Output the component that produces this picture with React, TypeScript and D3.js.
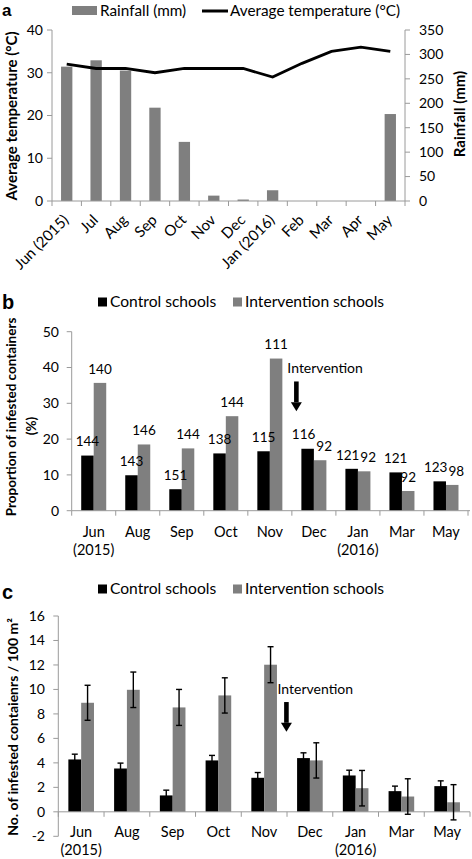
import React from "react";
import * as d3 from "d3";

// ---------- Panel a data ----------
const monthsA = ["Jun (2015)", "Jul", "Aug", "Sep", "Oct", "Nov", "Dec", "Jan (2016)", "Feb", "Mar", "Apr", "May"];
const rainfallA = [275, 288, 267, 191, 121, 11, 3, 22, 0, 0, 0, 178];
const temperatureA = [32, 31, 31, 30, 31, 31, 31, 29, 32.2, 35, 36, 35];
const tempTicks = [0, 10, 20, 30, 40];
const rainTicks = [0, 50, 100, 150, 200, 250, 300, 350];

// ---------- Panel b data ----------
const monthsB = ["Jun", "Aug", "Sep", "Oct", "Nov", "Dec", "Jan", "Mar", "May"];
const yearsB = ["(2015)", "", "", "", "", "", "(2016)", "", ""];
const controlB = [15.4, 9.9, 6.0, 16.0, 16.6, 17.3, 11.7, 10.7, 8.2];
const interventionB = [35.7, 18.5, 17.4, 26.4, 42.5, 14.1, 11.0, 5.5, 7.2];
const controlNB = ["144", "143", "151", "138", "115", "116", "121", "121", "123"];
const interventionNB = ["140", "146", "144", "144", "111", "92", "92", "92", "98"];
const ticksB = [0, 10, 20, 30, 40, 50];

// ---------- Panel c data ----------
const monthsC = monthsB;
const yearsC = yearsB;
const controlC = [4.28, 3.54, 1.34, 4.2, 2.78, 4.39, 2.97, 1.69, 2.1];
const controlErrC = [0.43, 0.44, 0.43, 0.41, 0.43, 0.43, 0.43, 0.41, 0.43];
const interventionC = [8.91, 9.97, 8.53, 9.51, 12.02, 4.2, 1.93, 1.25, 0.78];
const interventionErrC = [1.43, 1.45, 1.47, 1.44, 1.47, 1.44, 1.45, 1.45, 1.44];
const ticksC = [-2, 0, 2, 4, 6, 8, 10, 12, 14, 16];

const FONT = "Lato, 'Open Sans', sans-serif";
const GRAY = "#7f7f7f";
const AXIS = "#9a9a9a";

function PanelA() {
  const x = d3.scaleBand<string>().domain(monthsA).range([52, 405]);
  const yT = d3.scaleLinear().domain([0, 40]).range([201, 30]);
  const yR = d3.scaleLinear().domain([0, 350]).range([201, 30]);
  const bw = x.bandwidth() * 0.385;
  const line = d3
    .line<number>()
    .x((_, i) => (x(monthsA[i]) as number) + x.bandwidth() / 2)
    .y((d) => yT(d));
  const bounds = monthsA.map((m) => x(m) as number).concat([405]);
  return (
    <g fontFamily={FONT}>
      <text x={2} y={15.5} fontSize={17} fontWeight="bold" fontFamily="Arial, sans-serif">a</text>
      {/* legend */}
      <rect x={72} y={6} width={25} height={9} fill={GRAY} />
      <text x={100} y={15.5} fontSize={15.3}>Rainfall (mm)</text>
      <line x1={202} x2={228} y1={11} y2={11} stroke="#000" strokeWidth={3} />
      <text x={230} y={15.5} fontSize={15.3}>Average temperature (°C)</text>
      {/* bars */}
      {rainfallA.map((v, i) => (
        <rect key={i} x={(x(monthsA[i]) as number) + (x.bandwidth() - bw) / 2} y={yR(v)} width={bw} height={yR(0) - yR(v)} fill={GRAY} />
      ))}
      {/* axes */}
      <line x1={52} x2={52} y1={30} y2={201} stroke={AXIS} />
      <line x1={405} x2={405} y1={30} y2={201} stroke={AXIS} />
      <line x1={52} x2={405} y1={201} y2={201} stroke={AXIS} />
      {tempTicks.map((t) => (
        <g key={t}>
          <line x1={47} x2={52} y1={yT(t)} y2={yT(t)} stroke={AXIS} />
          <text x={43} y={yT(t)} dy="0.35em" textAnchor="end" fontSize={14}>{t}</text>
        </g>
      ))}
      {rainTicks.map((t) => (
        <g key={t}>
          <line x1={405} x2={410} y1={yR(t)} y2={yR(t)} stroke={AXIS} />
          <text x={419} y={yR(t)} dy="0.35em" fontSize={14}>{t}</text>
        </g>
      ))}
      {bounds.map((b, i) => (
        <line key={i} x1={b} x2={b} y1={201} y2={206} stroke={AXIS} />
      ))}
      {monthsA.map((m) => {
        const cx = (x(m) as number) + x.bandwidth() / 2;
        return (
          <text key={m} transform={`translate(${cx + 3},${221}) rotate(-45)`} textAnchor="end" fontSize={15}>{m}</text>
        );
      })}
      <path d={line(temperatureA) as string} fill="none" stroke="#000" strokeWidth={2.8} />
      <text transform={`translate(17,${116}) rotate(-90)`} textAnchor="middle" fontSize={15} fontWeight="bold">Average temperature (°C)</text>
      <text transform={`translate(465,${114}) rotate(-90)`} textAnchor="middle" fontSize={15} fontWeight="bold">Rainfall (mm)</text>
    </g>
  );
}

function Arrow({ x, y1, y2 }: { x: number; y1: number; y2: number }) {
  const head = 9;
  return (
    <g>
      <rect x={x - 2.3} y={y1} width={4.6} height={y2 - y1 - head} fill="#000" />
      <path d={`M${x - 5.5},${y2 - head} L${x + 5.5},${y2 - head} L${x},${y2} Z`} fill="#000" />
    </g>
  );
}

function Legend({ y }: { y: number }) {
  return (
    <g>
      <rect x={98} y={y - 4.5} width={9} height={9} fill="#000" />
      <text x={110} y={y} dy="0.35em" fontSize={15.6}>Control schools</text>
      <rect x={233} y={y - 4.5} width={9} height={9} fill={GRAY} />
      <text x={245} y={y} dy="0.35em" fontSize={15.6}>Intervention schools</text>
    </g>
  );
}

function PanelB() {
  const x = d3.scaleBand<string>().domain(monthsB).range([71.7, 468]);
  const y = d3.scaleLinear().domain([0, 50]).range([510.7, 331.7]);
  const bw = x.bandwidth() * 0.284;
  const bounds = monthsB.map((m) => x(m) as number).concat([468]);
  const bx = x("Dec") as number;
  const fs = 13.5;
  const cw = (s: string) => s.length * fs * 0.58;
  return (
    <g fontFamily={FONT}>
      <text x={2} y={309} fontSize={20} fontWeight="bold" fontFamily="Arial, sans-serif">b</text>
      <Legend y={302} />
      {monthsB.map((m, i) => {
        const x0 = x(m) as number;
        const gx = x0 + x.bandwidth() / 2 - bw;
        const cxC = gx + bw / 2;
        const cxI = gx + bw * 1.5;
        const yC = y(controlB[i]) - 14;
        const yI = y(interventionB[i]) - 14;
        let dC = 0;
        let dI = 0;
        if (Math.abs(yC - yI) < 12) {
          const overlap = (cxC + cw(controlNB[i]) / 2) - (cxI - cw(interventionNB[i]) / 2) + 1;
          if (overlap > 0) {
            dC = -overlap / 2;
            dI = overlap / 2;
          }
        }
        return (
          <g key={m}>
            <rect x={gx} y={y(controlB[i])} width={bw} height={y(0) - y(controlB[i])} fill="#000" />
            <rect x={gx + bw} y={y(interventionB[i])} width={bw} height={y(0) - y(interventionB[i])} fill={GRAY} />
            <text x={cxC + dC} y={yC} dy="0.35em" textAnchor="middle" fontSize={fs}>{controlNB[i]}</text>
            <text x={cxI + dI} y={yI} dy="0.35em" textAnchor="middle" fontSize={fs}>{interventionNB[i]}</text>
            <text x={x0 + x.bandwidth() / 2} y={531.7} dy="0.35em" textAnchor="middle" fontSize={14.5}>{m}</text>
            {yearsB[i] && (
              <text x={x0 + x.bandwidth() / 2} y={550} dy="0.35em" textAnchor="middle" fontSize={14.5}>{yearsB[i]}</text>
            )}
          </g>
        );
      })}
      <line x1={71.7} x2={71.7} y1={331.7} y2={510.7} stroke={AXIS} />
      <line x1={71.7} x2={470} y1={510.7} y2={510.7} stroke={AXIS} />
      {ticksB.map((t) => (
        <g key={t}>
          <line x1={66.7} x2={71.7} y1={y(t)} y2={y(t)} stroke={AXIS} />
          <text x={59} y={y(t)} dy="0.35em" textAnchor="end" fontSize={14}>{t}</text>
        </g>
      ))}
      {bounds.map((b, i) => (
        <line key={i} x1={b} x2={b} y1={510.7} y2={515.7} stroke={AXIS} />
      ))}
      <text x={bx - 4.5} y={y(39.8)} dy="0.35em" fontSize={14}>Intervention</text>
      <Arrow x={bx + 4.5} y1={y(36.1)} y2={y(27.8)} />
      <text transform={`translate(16,417) rotate(-90)`} textAnchor="middle" fontSize={13.5} fontWeight="bold">Proportion of infested containers</text>
      <text transform={`translate(36,426) rotate(-90)`} textAnchor="middle" fontSize={13.5} fontWeight="bold">(%)</text>
    </g>
  );
}

function PanelC() {
  const x = d3.scaleBand<string>().domain(monthsC).range([58.3, 470]);
  const y = d3.scaleLinear().domain([-2, 16]).range([836.3, 616]);
  const bw = x.bandwidth() * 0.28;
  const bounds = monthsC.map((m) => x(m) as number).concat([470]);
  const bx = x("Dec") as number;
  const y0 = y(0);
  const errBar = (cx: number, v: number, e: number, key: string) => (
    <g key={key} stroke="#000" strokeWidth={1.4}>
      <line x1={cx} x2={cx} y1={y(v + e)} y2={y(v - e)} />
      <line x1={cx - 3} x2={cx + 3} y1={y(v + e)} y2={y(v + e)} />
      <line x1={cx - 3} x2={cx + 3} y1={y(v - e)} y2={y(v - e)} />
    </g>
  );
  return (
    <g fontFamily={FONT}>
      <text x={2} y={599} fontSize={20} fontWeight="bold" fontFamily="Arial, sans-serif">c</text>
      <Legend y={589} />
      <line x1={58.3} x2={58.3} y1={616} y2={836.3} stroke={AXIS} />
      {ticksC.map((t) => (
        <g key={t}>
          <line x1={53.3} x2={58.3} y1={y(t)} y2={y(t)} stroke={AXIS} />
          <text x={45} y={y(t)} dy="0.35em" textAnchor="end" fontSize={14}>{t}</text>
        </g>
      ))}
      {monthsC.map((m, i) => {
        const x0 = x(m) as number;
        const gx = x0 + x.bandwidth() / 2 - bw;
        return (
          <g key={m}>
            <rect x={gx} y={y(controlC[i])} width={bw} height={y0 - y(controlC[i])} fill="#000" />
            <rect x={gx + bw} y={y(interventionC[i])} width={bw} height={y0 - y(interventionC[i])} fill={GRAY} />
            <text x={x0 + x.bandwidth() / 2} y={831.7} dy="0.35em" textAnchor="middle" fontSize={14.5}>{m}</text>
            {yearsC[i] && (
              <text x={x0 + x.bandwidth() / 2} y={850} dy="0.35em" textAnchor="middle" fontSize={14.5}>{yearsC[i]}</text>
            )}
          </g>
        );
      })}
      <line x1={58.3} x2={470} y1={y0} y2={y0} stroke={AXIS} />
      {bounds.map((b, i) => (
        <line key={i} x1={b} x2={b} y1={y0} y2={y0 + 5} stroke={AXIS} />
      ))}
      {monthsC.map((m, i) => {
        const x0 = x(m) as number;
        const gx = x0 + x.bandwidth() / 2 - bw;
        return (
          <g key={"e" + m}>
            {errBar(gx + bw / 2, controlC[i], controlErrC[i], "c")}
            {errBar(gx + bw * 1.5, interventionC[i], interventionErrC[i], "i")}
          </g>
        );
      })}
      <text x={bx - 9.5} y={y(10.06)} dy="0.35em" fontSize={14}>Intervention</text>
      <Arrow x={bx - 0.6} y1={y(8.97)} y2={y(6.54)} />
      <text transform={`translate(18,727) rotate(-90)`} textAnchor="middle" fontSize={14} fontWeight="bold">
        No. of infested contaienrs / 100 m²
      </text>
    </g>
  );
}

export default function App() {
  return (
    <svg width={472} height={859} style={{ position: "absolute", left: 0, top: 0, background: "#fff" }}>
      <rect width={472} height={859} fill="#fff" />
      <PanelA />
      <PanelB />
      <PanelC />
    </svg>
  );
}
